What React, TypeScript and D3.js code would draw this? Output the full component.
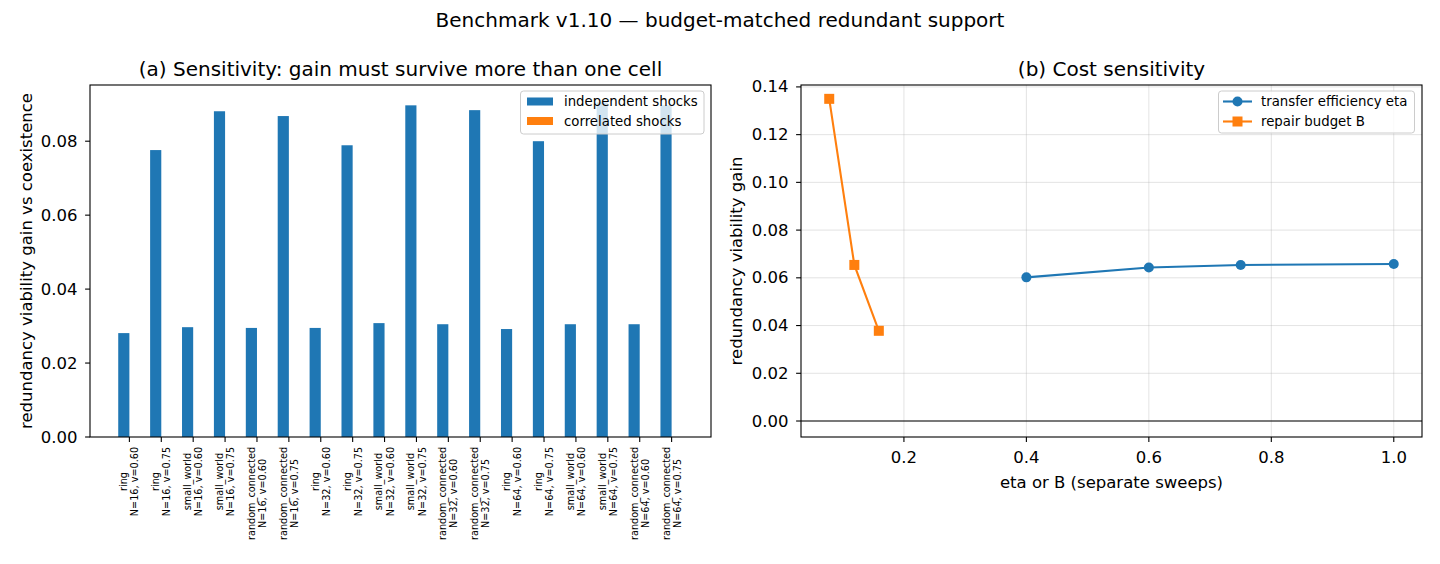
import React from "react";
import * as d3 from "d3";

// ---- data ----
const topologies = ["ring", "ring", "small_world", "small_world", "random_connected", "random_connected"];
const sizes = [16, 32, 64];
const vLevels = ["0.60", "0.75"];
const categories: { top: string; sub: string }[] = sizes.flatMap((n) =>
  topologies.map((t, j) => ({ top: t, sub: `N=${n}, v=${vLevels[j % 2]}` }))
);
const independentShocks = [
  0.0281, 0.0776, 0.0297, 0.0881, 0.0295, 0.0868,
  0.0295, 0.0789, 0.0308, 0.0897, 0.0305, 0.0884,
  0.0292, 0.0800, 0.0305, 0.0905, 0.0305, 0.0897,
];
const correlatedShocks = [
  0, 0, 0, 0, 0, 0,
  0, 0, 0, 0, 0, 0,
  0, 0, 0, 0, 0, 0,
];
const etaX = [0.4, 0.6, 0.75, 1.0];
const etaY = [0.0602, 0.0643, 0.0654, 0.0658];
const budgetX = [0.078, 0.119, 0.159];
const budgetY = [0.135, 0.0654, 0.0378];
const leftYTicks = [0, 0.02, 0.04, 0.06, 0.08];
const rightYTicks = [0, 0.02, 0.04, 0.06, 0.08, 0.1, 0.12, 0.14];
const rightXTicks = [0.2, 0.4, 0.6, 0.8, 1.0];

const BLUE = "#1f77b4";
const ORANGE = "#ff7f0e";
const FONT = "DejaVu Sans, sans-serif";
const TICK_FS = 16.5;
const TITLE_FS = 20;
const LEGEND_FS = 13.3;
const CAT_FS = 9.7;

let measureCtx: CanvasRenderingContext2D | null = null;
function textWidth(s: string, size: number): number {
  if (!measureCtx) measureCtx = document.createElement("canvas").getContext("2d");
  if (!measureCtx) return s.length * size * 0.6;
  measureCtx.font = `${size}px "DejaVu Sans"`;
  return measureCtx.measureText(s).width;
}

export default function App() {
  const W = 1440;
  const H = 564;

  // panel (a)
  const aL = 90, aR = 711, aT = 85, aB = 437;
  const barW = 0.35;
  const n = categories.length;
  const pad = 0.05 * (n - 1 + 2 * barW);
  const ax = d3.scaleLinear().domain([-barW - pad, n - 1 + barW + pad]).range([aL, aR]);
  const ay = d3.scaleLinear().domain([0, 0.0952]).range([aB, aT]);

  // panel (b)
  const bL = 801, bR = 1422, bT = 85, bB = 437;
  const bx = d3.scaleLinear().domain([0.0319, 1.0461]).range([bL, bR]);
  const by = d3.scaleLinear().domain([-0.0067, 0.1408]).range([bB, bT]);
  const line = d3.line<[number, number]>().x((d) => bx(d[0])).y((d) => by(d[1]));
  const etaPts = etaX.map((x, i) => [x, etaY[i]] as [number, number]);
  const budgetPts = budgetX.map((x, i) => [x, budgetY[i]] as [number, number]);

  const tickLen = 4.9;
  const fmt = d3.format(".2f");
  const fmt1 = d3.format(".1f");

  return (
    <svg width={W} height={H} style={{ display: "block", position: "absolute", left: 0, top: 0 }} fontFamily={FONT}>
      <rect width={W} height={H} fill="#fff" />
      <text x={720} y={27} textAnchor="middle" fontSize={TITLE_FS}>
        Benchmark v1.10 — budget-matched redundant support
      </text>

      {/* ---- (a) bars ---- */}
      <text x={(aL + aR) / 2} y={75.5} textAnchor="middle" fontSize={TITLE_FS}>
        (a) Sensitivity: gain must survive more than one cell
      </text>
      {independentShocks.map((v, i) => (
        <rect key={`ind${i}`} x={ax(i - barW)} width={ax(i) - ax(i - barW)} y={ay(v)} height={ay(0) - ay(v)} fill={BLUE} />
      ))}
      {correlatedShocks.map((v, i) => (
        <rect key={`cor${i}`} x={ax(i)} width={ax(i + barW) - ax(i)} y={ay(v)} height={ay(0) - ay(v)} fill={ORANGE} />
      ))}
      <rect x={aL} y={aT} width={aR - aL} height={aB - aT} fill="none" stroke="#000" strokeWidth={1.1} />
      {leftYTicks.map((t) => (
        <g key={`ay${t}`}>
          <line x1={aL - tickLen} x2={aL} y1={ay(t)} y2={ay(t)} stroke="#000" strokeWidth={1.1} />
          <text x={aL - 12.5} y={ay(t)} textAnchor="end" dominantBaseline="central" fontSize={TICK_FS}>
            {fmt(t)}
          </text>
        </g>
      ))}
      {categories.map((c, i) => {
        const x = ax(i);
        const maxW = Math.max(textWidth(c.top, CAT_FS), textWidth(c.sub, CAT_FS));
        return (
          <g key={`ax${i}`}>
            <line x1={x} x2={x} y1={aB} y2={aB + tickLen} stroke="#000" strokeWidth={1.1} />
            <g transform={`translate(${x},${aB + tickLen + 5}) rotate(-90)`}>
              <text x={-maxW / 2} y={-5.6} textAnchor="middle" dominantBaseline="central" fontSize={CAT_FS}>
                {c.top}
              </text>
              <text x={-maxW / 2} y={5.6} textAnchor="middle" dominantBaseline="central" fontSize={CAT_FS}>
                {c.sub}
              </text>
            </g>
          </g>
        );
      })}
      <text transform={`translate(26.5,${(aT + aB) / 2}) rotate(-90)`} textAnchor="middle" dominantBaseline="central" fontSize={TICK_FS}>
        redundancy viability gain vs coexistence
      </text>
      {/* legend (a) */}
      <g>
        <rect x={520.5} y={91} width={183.5} height={43} rx={3} fill="#fff" fillOpacity={0.8} stroke="#cccccc" strokeWidth={1} />
        <rect x={527} y={97.5} width={26} height={8} fill={BLUE} />
        <text x={564} y={101.5} dominantBaseline="central" fontSize={LEGEND_FS}>independent shocks</text>
        <rect x={527} y={117} width={26} height={8} fill={ORANGE} />
        <text x={564} y={121} dominantBaseline="central" fontSize={LEGEND_FS}>correlated shocks</text>
      </g>

      {/* ---- (b) lines ---- */}
      <text x={(bL + bR) / 2} y={75.5} textAnchor="middle" fontSize={TITLE_FS}>
        (b) Cost sensitivity
      </text>
      {rightXTicks.map((t) => (
        <line key={`gx${t}`} x1={bx(t)} x2={bx(t)} y1={bT} y2={bB} stroke="#b0b0b0" strokeOpacity={0.35} strokeWidth={1} />
      ))}
      {rightYTicks.map((t) => (
        <line key={`gy${t}`} x1={bL} x2={bR} y1={by(t)} y2={by(t)} stroke="#b0b0b0" strokeOpacity={0.35} strokeWidth={1} />
      ))}
      <line x1={bL} x2={bR} y1={by(0)} y2={by(0)} stroke="#000" strokeWidth={1.1} />
      <path d={line(etaPts) || ""} fill="none" stroke={BLUE} strokeWidth={2.1} />
      {etaPts.map((p, i) => (
        <circle key={`ec${i}`} cx={bx(p[0])} cy={by(p[1])} r={5} fill={BLUE} />
      ))}
      <path d={line(budgetPts) || ""} fill="none" stroke={ORANGE} strokeWidth={2.1} />
      {budgetPts.map((p, i) => (
        <rect key={`bs${i}`} x={bx(p[0]) - 5} y={by(p[1]) - 5} width={10} height={10} fill={ORANGE} />
      ))}
      <rect x={bL} y={bT} width={bR - bL} height={bB - bT} fill="none" stroke="#000" strokeWidth={1.1} />
      {rightYTicks.map((t) => (
        <g key={`by${t}`}>
          <line x1={bL - tickLen} x2={bL} y1={by(t)} y2={by(t)} stroke="#000" strokeWidth={1.1} />
          <text x={bL - 12.5} y={by(t)} textAnchor="end" dominantBaseline="central" fontSize={TICK_FS}>
            {fmt(t)}
          </text>
        </g>
      ))}
      {rightXTicks.map((t) => (
        <g key={`bx${t}`}>
          <line x1={bx(t)} x2={bx(t)} y1={bB} y2={bB + tickLen} stroke="#000" strokeWidth={1.1} />
          <text x={bx(t)} y={463.3} textAnchor="middle" fontSize={TICK_FS}>
            {fmt1(t)}
          </text>
        </g>
      ))}
      <text x={(bL + bR) / 2} y={487.7} textAnchor="middle" fontSize={TICK_FS}>
        eta or B (separate sweeps)
      </text>
      <text transform={`translate(736,${(bT + bB) / 2}) rotate(-90)`} textAnchor="middle" dominantBaseline="central" fontSize={TICK_FS}>
        redundancy viability gain
      </text>
      {/* legend (b) */}
      <g>
        <rect x={1218.5} y={91} width={196} height={42} rx={3} fill="#fff" fillOpacity={0.8} stroke="#cccccc" strokeWidth={1} />
        <line x1={1223} x2={1252} y1={101.5} y2={101.5} stroke={BLUE} strokeWidth={2.1} />
        <circle cx={1237.5} cy={101.5} r={5} fill={BLUE} />
        <text x={1261} y={101.5} dominantBaseline="central" fontSize={LEGEND_FS}>transfer efficiency eta</text>
        <line x1={1223} x2={1252} y1={121.5} y2={121.5} stroke={ORANGE} strokeWidth={2.1} />
        <rect x={1232.5} y={116.5} width={10} height={10} fill={ORANGE} />
        <text x={1261} y={121.5} dominantBaseline="central" fontSize={LEGEND_FS}>repair budget B</text>
      </g>
    </svg>
  );
}
